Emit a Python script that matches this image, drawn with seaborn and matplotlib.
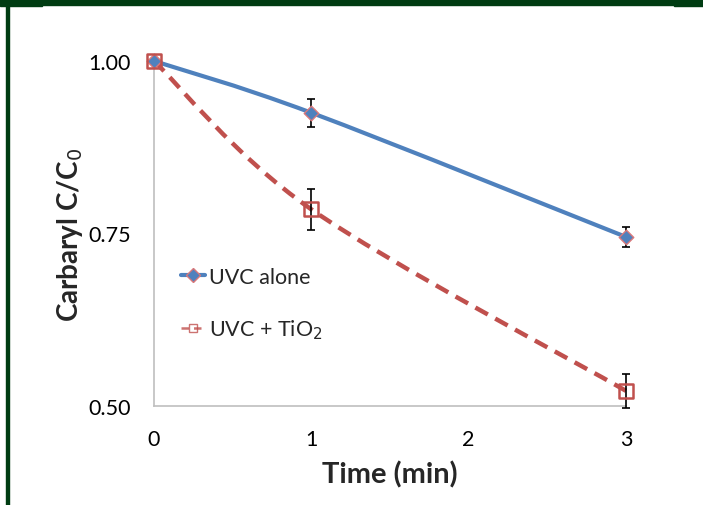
import numpy as np
import matplotlib
matplotlib.use("Agg")
import matplotlib.pyplot as plt
import seaborn as sns
import pandas as pd
from matplotlib.path import Path
from matplotlib.patches import PathPatch, Rectangle
from matplotlib.lines import Line2D

# ---- data ----
time_min = [0, 1, 3]
uvc_alone = [1.00, 0.925, 0.745]
uvc_alone_err = [0.0, 0.02, 0.015]
uvc_tio2 = [1.00, 0.785, 0.522]
uvc_tio2_err = [0.0, 0.03, 0.025]
series_names = ["UVC alone", "UVC + TiO$_2$"]
x_ticks = [0, 1, 2, 3]
y_ticks = [0.50, 0.75, 1.00]
y_tick_labels = ["0.50", "0.75", "1.00"]

BLUE = "#4F81BD"
RED = "#C0504D"
GREEN = "#003C12"

sns.set_theme(style="white")
plt.rcParams["font.family"] = ["Lato", "DejaVu Sans"]

W, H = 703, 506
fig = plt.figure(figsize=(W / 100, H / 100), dpi=100)
ax = fig.add_axes([154 / W, 1 - 407 / H, (626 - 154) / W, (407 - 62) / H])


def smooth_path(xs, ys):
    """Excel-like smoothed line (Catmull-Rom as cubic Bezier)."""
    pts = np.column_stack([xs, ys]).astype(float)
    n = len(pts)
    verts = [pts[0]]
    codes = [Path.MOVETO]
    for i in range(n - 1):
        p_prev = pts[i - 1] if i > 0 else pts[i]
        p_next = pts[i + 2] if i + 2 < n else pts[i + 1]
        c1 = pts[i] + (pts[i + 1] - p_prev) / 6.0
        c2 = pts[i + 1] - (p_next - pts[i]) / 6.0
        verts += [c1, c2, pts[i + 1]]
        codes += [Path.CURVE4] * 3
    return Path(verts, codes)


df = pd.DataFrame({
    "time": time_min * 2,
    "value": uvc_alone + uvc_tio2,
    "series": [series_names[0]] * 3 + [series_names[1]] * 3,
})

# smoothed lines
ax.add_patch(PathPatch(smooth_path(time_min, uvc_alone), fill=False,
                       edgecolor=BLUE, lw=3.0, capstyle="butt", clip_on=False, zorder=3))
ax.add_patch(PathPatch(smooth_path(time_min, uvc_tio2), fill=False,
                       edgecolor=RED, lw=3.2, linestyle=(0, (3.2, 1.9)),
                       capstyle="butt", clip_on=False, zorder=3))

# error bars
ax.errorbar(time_min, uvc_alone, yerr=uvc_alone_err, fmt="none", ecolor="black",
            elinewidth=1.2, capsize=3, capthick=1.2, zorder=4, clip_on=False)
ax.errorbar(time_min, uvc_tio2, yerr=uvc_tio2_err, fmt="none", ecolor="black",
            elinewidth=1.2, capsize=3, capthick=1.2, zorder=4, clip_on=False)

# markers
sub1 = df[df.series == series_names[0]]
sub2 = df[df.series == series_names[1]]
sns.scatterplot(data=sub1, x="time", y="value", marker="D", s=55, color=BLUE,
                edgecolor="#D9787A", linewidth=1.0, ax=ax, zorder=5, clip_on=False,
                legend=False)
sns.scatterplot(data=sub2, x="time", y="value", marker="s", s=100, facecolor="none",
                edgecolor=RED, linewidth=1.8, ax=ax, zorder=5, clip_on=False,
                legend=False)

ax.set_xlim(0, 3)
ax.set_ylim(0.5, 1.0)
ax.set_xticks(x_ticks)
ax.set_yticks(y_ticks)
ax.set_yticklabels(y_tick_labels)
ax.tick_params(axis="both", length=0, labelsize=15.5, colors="black")
ax.tick_params(axis="y", pad=16.5)
ax.tick_params(axis="x", pad=16.5)
for s in ["top", "right"]:
    ax.spines[s].set_visible(False)
for s in ["left", "bottom"]:
    ax.spines[s].set_color("#BFBFBF")
    ax.spines[s].set_linewidth(1.2)
ax.set_xlabel("Time (min)", fontsize=21, fontweight="bold")
ax.set_ylabel("Carbaryl C/C$_0$", fontsize=20, fontweight="bold")
ax.yaxis.set_label_coords((70 - 154) / (626 - 154), (407 - 235) / (407 - 62))
ax.xaxis.set_label_coords((390 - 154) / (626 - 154), -(475 - 407) / (407 - 62))
ax.xaxis.label.set_va("center")
ax.yaxis.label.set_va("center")

handles = [
    Line2D([0], [0], color=BLUE, lw=3, marker="D", markersize=7,
           markerfacecolor=BLUE, markeredgecolor="#D9787A"),
    Line2D([0], [0], color=RED, lw=1.8, linestyle=(0, (3, 2)), marker="s", markersize=6,
           markerfacecolor="none", markeredgecolor=RED, alpha=0.8),
]
leg = ax.legend(handles, series_names, loc="upper left",
                bbox_to_anchor=((172 - 154) / (626 - 154), (407 - 259) / (407 - 62)),
                frameon=False, fontsize=15.5, handlelength=1.15, handletextpad=0.15,
                labelspacing=1.45, borderaxespad=0)

# slide border
fig.patches.append(Rectangle((0, 1 - 6 / H), 1, 6 / H, transform=fig.transFigure,
                             color=GREEN, zorder=10))
fig.patches.append(Rectangle((0, 1 - 7 / H), 42 / W, 7 / H, transform=fig.transFigure,
                             color=GREEN, zorder=10))
fig.patches.append(Rectangle((674 / W, 1 - 7 / H), 29 / W, 7 / H, transform=fig.transFigure,
                             color=GREEN, zorder=10))
fig.patches.append(Rectangle((6 / W, 0), 3 / W, 1, transform=fig.transFigure,
                             color=GREEN, zorder=10))

fig.savefig("out.png", dpi=100)
